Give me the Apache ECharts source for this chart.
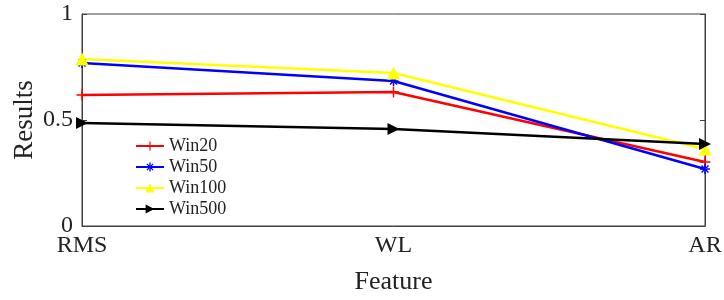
<!DOCTYPE html>
<html>
<head>
<meta charset="utf-8">
<script src="https://cdn.jsdelivr.net/npm/echarts@6/dist/echarts.min.js"></script>
<style>
  html, body { margin: 0; padding: 0; background: #fff; }
  #chart { width: 724px; height: 300px; }
</style>
</head>
<body>
<div id="chart"></div>
<script>
var features = ['RMS', 'WL', 'AR'];
var win20 = [0.618, 0.632, 0.302];
var win50 = [0.769, 0.684, 0.269];
var win100 = [0.788, 0.722, 0.363];
var win500 = [0.486, 0.458, 0.387];
var yTicks = [0, 0.5, 1];

(function () {
  var font = 'Liberation Serif';
  var axisColor = '#404040';
  var textColor = '#222';
  var plus = 'path://M-1,-0.13H1V0.13H-1Z M-0.13,-1H0.13V1H-0.13Z';
  var star = 'path://M-1,-0.15H1V0.15H-1Z M-0.15,-1H0.15V1H-0.15Z M-0.8,-0.6L-0.6,-0.8L0.8,0.6L0.6,0.8Z M0.8,-0.6L0.6,-0.8L-0.8,0.6L-0.6,0.8Z';
  var rightTri = 'path://M0,0L1,0.5L0,1Z';

  function series(name, data, color, symbol, size) {
    return {
      name: name, type: 'line', data: data,
      symbol: symbol, symbolSize: size,
      lineStyle: { color: color, width: 2.5 },
      itemStyle: { color: color },
      animation: false
    };
  }

  var chart = echarts.init(document.getElementById('chart'));
  chart.setOption({
    animation: false,
    grid: {
      left: 82, right: 19, top: 14, bottom: 74,
      containLabel: false, outerBoundsMode: 'none',
      show: true, borderColor: axisColor, borderWidth: 1
    },
    legend: {
      orient: 'vertical', left: 130, top: 132,
      itemWidth: 28, itemHeight: 11, itemGap: 3,
      textStyle: { fontFamily: font, fontSize: 18, color: textColor },
      data: ['Win20', 'Win50', 'Win100', 'Win500']
    },
    xAxis: {
      type: 'category', data: features, boundaryGap: false,
      name: 'Feature', nameLocation: 'middle', nameGap: 43,
      nameMoveOverlap: false,
      nameTextStyle: { fontFamily: font, fontSize: 26, color: textColor },
      axisLine: { lineStyle: { color: axisColor } },
      axisTick: { show: false },
      axisLabel: { fontFamily: font, fontSize: 24, color: textColor, margin: 8 },
      splitLine: { show: false }
    },
    yAxis: [{
      type: 'value', min: yTicks[0], max: yTicks[yTicks.length - 1], interval: 0.5,
      name: 'Results', nameLocation: 'middle', nameGap: 44,
      nameMoveOverlap: false,
      nameTextStyle: { fontFamily: font, fontSize: 27, color: textColor },
      axisLine: { show: true, lineStyle: { color: axisColor } },
      axisTick: { show: true, inside: true, length: 5, lineStyle: { color: axisColor } },
      axisLabel: { fontFamily: font, fontSize: 24, color: textColor, margin: 9 },
      splitLine: { show: false }
    }, {
      type: 'value', position: 'right', min: 0, max: 1, interval: 0.5,
      axisLine: { show: true, lineStyle: { color: axisColor } },
      axisTick: { show: true, inside: true, length: 5, lineStyle: { color: axisColor } },
      axisLabel: { show: false },
      splitLine: { show: false }
    }],
    series: [
      series('Win20', win20, '#ff0000', plus, 11),
      series('Win50', win50, '#0000ff', star, 10),
      series('Win100', win100, '#ffff00', 'triangle', 13),
      series('Win500', win500, '#000000', rightTri, 12)
    ]
  });
})();
</script>
</body>
</html>
